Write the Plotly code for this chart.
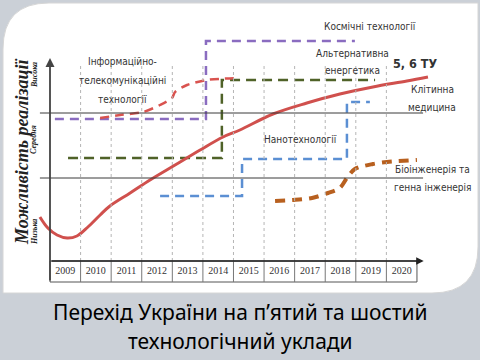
import plotly.graph_objects as go

# ---------------- data ----------------
years = [2009, 2010, 2011, 2012, 2013, 2014, 2015, 2016, 2017, 2018, 2019, 2020]
level_mid = 8.3     # "Середня"
level_high = 14.8   # "Висока"

# 5, 6 ТУ (solid curve)
tu_x = [2008.17, 2008.43, 2008.73, 2009.06, 2009.38, 2009.74, 2010.14, 2010.46, 2011.12, 2011.77,
        2012.59, 2013.41, 2014.16, 2014.71, 2015.79, 2016.90, 2017.98, 2019.06, 2020.17, 2020.86]
tu_y = [4.4, 3.3, 2.6, 2.3, 2.5, 3.4, 4.6, 5.5, 6.8, 8.1,
        9.6, 11.1, 12.4, 13.1, 14.7, 15.8, 16.7, 17.4, 18.0, 18.4]

# Космічні технології
space_x = [2008.66, 2013.60, 2013.60, 2018.47]
space_y = [14.2, 14.2, 22.0, 22.0]

# Інформаційно-телекомунікаційні технології
ict_x = [2010.14, 2010.79, 2011.54, 2012.10, 2012.49, 2012.59, 2012.98, 2013.63, 2014.65]
ict_y = [14.3, 14.6, 14.9, 15.6, 16.3, 16.9, 17.6, 18.1, 18.3]

# Альтернативна енергетика
energy_x = [2009.09, 2014.12, 2014.12, 2019.13]
energy_y = [10.3, 10.3, 18.1, 18.1]

# Нанотехнології
nano_x = [2012.10, 2014.78, 2014.78, 2018.21, 2018.21, 2018.96]
nano_y = [6.5, 6.5, 10.2, 10.2, 15.9, 15.9]

# Біоінженерія та генна інженерія
bio_x = [2015.86, 2016.45, 2017.07, 2017.59, 2017.98, 2018.21, 2018.47, 2019.06, 2019.52, 2020.50]
bio_y = [6.0, 6.1, 6.3, 6.8, 7.3, 8.3, 9.2, 9.7, 9.9, 10.1]

# ---------------- helpers ----------------
W, H = 480, 360
def PX(px):
    return px / W
def PY(py):
    return 1 - py / H

BG = "#cbd0d7"
TXT = "#333333"
NARROW = "Liberation Sans Narrow, Arial Narrow, DejaVu Sans Condensed, Roboto Condensed, Liberation Sans, sans-serif"

fig = go.Figure()

def add_line(x, y, color, width, dash, shape="linear", smoothing=1.0):
    fig.add_trace(go.Scatter(x=x, y=y, mode="lines", hoverinfo="skip",
                             line=dict(color=color, width=width, dash=dash, shape=shape,
                                       smoothing=smoothing if shape == "spline" else None)))

add_line(space_x, space_y, "#8a6cc0", 2.5, "9px,6px")
add_line(energy_x, energy_y, "#4f6228", 2.5, "10px,6px")
add_line(nano_x, nano_y, "#5b8fd3", 2.5, "9px,6px")
add_line(ict_x, ict_y, "#d9534f", 2.5, "9px,6px", "spline", 0.8)
add_line(bio_x, bio_y, "#b8601f", 4, "10px,7px", "spline", 0.8)
add_line(tu_x, tu_y, "#d0504d", 3, "solid", "spline", 1.0)

# year labels in the table row
fig.add_trace(go.Scatter(x=years, y=[-1.05] * len(years), mode="text", text=[str(y) for y in years],
                         textfont=dict(family="Liberation Serif, Times New Roman, serif", size=10, color=TXT),
                         hoverinfo="skip"))

shapes = []
# white panel with two rounded corners
l, t, r, b = 3, 3, 478, 293
rad = 46
path = (f"M {PX(l)},{PY(t+rad)} Q {PX(l)},{PY(t)} {PX(l+rad)},{PY(t)} "
        f"L {PX(r)},{PY(t)} L {PX(r)},{PY(b-rad)} Q {PX(r)},{PY(b)} {PX(r-rad)},{PY(b)} "
        f"L {PX(l)},{PY(b)} Z")
shapes.append(dict(type="path", xref="paper", yref="paper", path=path, fillcolor="white",
                   line=dict(color="#d6d6d6", width=1), layer="below"))

x0, x1 = years[0] - 0.5, years[-1] + 0.5
# vertical dotted gridlines at cell boundaries
for yr in years[:-1]:
    shapes.append(dict(type="line", xref="x", yref="y", x0=yr + 0.5, x1=yr + 0.5, y0=0, y1=19.7,
                       line=dict(color="#b5b5b5", width=1, dash="3px,3px")))
# level lines
for lv in (level_mid, level_high):
    shapes.append(dict(type="line", xref="x", yref="y", x0=2008.17, x1=2020.70, y0=lv, y1=lv,
                       line=dict(color="#3a3a3a", width=1)))
# table row
shapes.append(dict(type="rect", xref="x", yref="y", x0=x0, x1=x1, y0=-2.1, y1=0,
                   line=dict(color="#555", width=1)))
for yr in years[:-1]:
    shapes.append(dict(type="line", xref="x", yref="y", x0=yr + 0.5, x1=yr + 0.5, y0=-2.1, y1=0,
                       line=dict(color="#777", width=1)))

ann = []
# axes arrows
ann.append(dict(x=x0, y=20.3, ax=x0, ay=-2.1, xref="x", yref="y", axref="x", ayref="y", text="",
                showarrow=True, arrowhead=2, arrowsize=1, arrowwidth=1.8, arrowcolor="#444"))
ann.append(dict(x=2020.72, y=0, ax=x0, ay=0, xref="x", yref="y", axref="x", ayref="y", text="",
                showarrow=True, arrowhead=2, arrowsize=1, arrowwidth=1.5, arrowcolor="#222"))

def label(text, px, py, size=10, bold=False, family=NARROW, color=TXT, angle=0):
    ann.append(dict(x=PX(px), y=PY(py), xref="paper", yref="paper", text=(f"<b>{text}</b>" if bold else text),
                    showarrow=False, xanchor="center", yanchor="middle", textangle=angle,
                    font=dict(family=family, size=size, color=color)))

label("Інформаційно-", 123, 61)
label("телекомунікаційні", 123, 81)
label("технології", 123, 99)
label("Космічні технології", 370, 27)
label("Альтернативна", 352, 53)
label("енергетика", 352, 71)
label("5, 6 ТУ", 415, 63, size=12.5, bold=True)
label("Клітинна", 432, 89)
label("медицина", 432, 107)
label("Нанотехнології", 300, 139)
label("Біоінженерія та", 432, 169)
label("генна інженерія", 432, 187)

SERIF = "Liberation Serif, Times New Roman, serif"
label("<i>Можливість реалізації</i>", 22, 152, size=18, bold=True, family=SERIF, color="#222", angle=-90)
label("<i>Висока</i>", 34, 75, size=8, bold=True, family=SERIF, color="#222", angle=-90)
label("<i>Середня</i>", 34, 140, size=8, bold=True, family=SERIF, color="#222", angle=-90)
label("<i>Низька</i>", 34, 232, size=8, bold=True, family=SERIF, color="#222", angle=-90)

# slide title
TITLE_FONT = "Noto Sans, Open Sans, sans-serif"
label("Перехід України на п’ятий та шостий", 240, 312, size=21, family=TITLE_FONT, color="#000")
label("технологічний уклади", 240, 341, size=21, family=TITLE_FONT, color="#000")

# axis ranges so that the plot area covers the full figure
xr = [x0 - 50 / 30.58, x0 + 430 / 30.58]
yr_ = [(261 - 360) / 10, (261 - 0) / 10]

fig.update_layout(width=W, height=H, margin=dict(l=0, r=0, t=0, b=0),
                  paper_bgcolor=BG, plot_bgcolor="rgba(0,0,0,0)", showlegend=False,
                  xaxis=dict(range=xr, visible=False, fixedrange=True),
                  yaxis=dict(range=yr_, visible=False, fixedrange=True),
                  shapes=shapes, annotations=ann)

fig.write_html("out.html", config={"displayModeBar": False},
               post_script="document.body.style.margin='0';document.body.style.overflow='hidden';")
